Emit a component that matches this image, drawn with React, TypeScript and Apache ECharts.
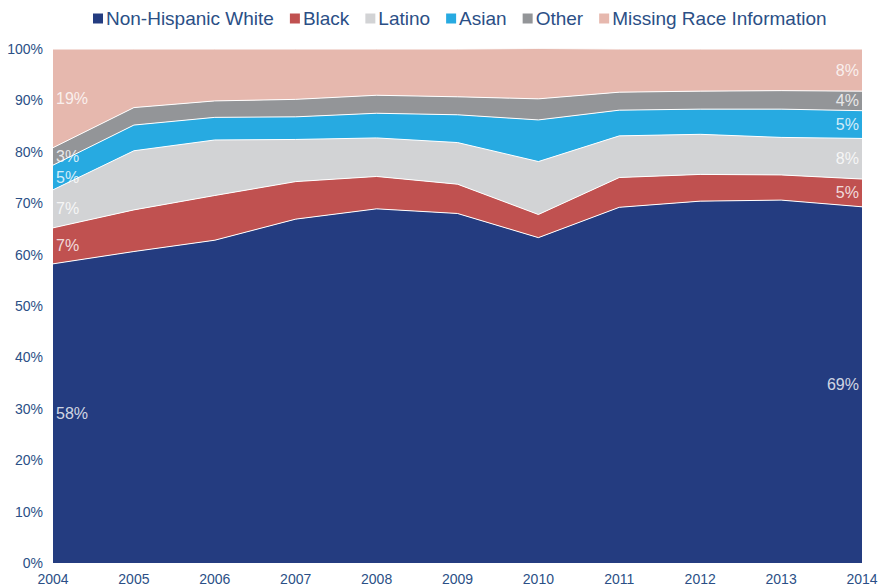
import React, { useEffect, useRef } from "react";
import * as echarts from "echarts";

const years = ["2004", "2005", "2006", "2007", "2008", "2009", "2010", "2011", "2012", "2013", "2014"];
const white = [58.2, 60.6, 62.8, 66.9, 68.9, 68.0, 63.3, 69.2, 70.4, 70.6, 69.3];
const black = [7.0, 8.1, 8.7, 7.3, 6.3, 5.7, 4.5, 5.8, 5.2, 4.9, 5.4];
const latino = [7.4, 11.5, 10.8, 8.2, 7.5, 8.1, 10.3, 8.1, 7.8, 7.3, 7.9];
const asian = [4.8, 5.0, 4.4, 4.4, 4.8, 5.4, 8.1, 5.0, 4.9, 5.5, 5.4];
const other = [3.4, 3.4, 3.2, 3.4, 3.5, 3.5, 4.1, 3.5, 3.5, 3.6, 3.8];
const missing = [19.2, 11.4, 10.1, 9.8, 9.0, 9.3, 9.8, 8.4, 8.2, 8.1, 8.2];

const seriesNames = ["Non-Hispanic White", "Black", "Latino", "Asian", "Other", "Missing Race Information"];
const seriesData = [white, black, latino, asian, other, missing];
const colors = ["#243c80", "#c05150", "#d2d3d5", "#27aae1", "#939598", "#e6b8ae"];

const textBlue = "#2b4f86";
const font = "'Liberation Sans', Arial, sans-serif";

export default function App() {
  const ref = useRef<HTMLDivElement>(null);
  useEffect(() => {
    if (!ref.current) return;
    const chart = echarts.init(ref.current, undefined, { renderer: "svg" });

    const labelPoints = (idx: number, pos: "right" | "left") => {
      const pts: any[] = [];
      let cum = 0;
      seriesData.forEach((arr) => {
        const v = arr[idx];
        pts.push({
          value: [idx, cum + v / 2],
          label: {
            show: true,
            position: pos,
            distance: 3,
            formatter: Math.round(v) + "%",
          },
        });
        cum += v;
      });
      return pts;
    };

    const areaSeries = seriesNames.map((name, i) => ({
      name,
      type: "line",
      stack: "total",
      data: seriesData[i],
      symbol: "none",
      lineStyle: { color: "#ffffff", width: 1 },
      itemStyle: { color: colors[i] },
      areaStyle: { color: colors[i], opacity: 1 },
      z: 2,
    }));

    const labelSeriesBase = {
      type: "scatter",
      symbolSize: 0.1,
      itemStyle: { color: "rgba(0,0,0,0)" },
      label: { color: "#ffffff", fontSize: 16, fontFamily: font },
      z: 5,
      silent: true,
      legendHoverLink: false,
    };

    chart.setOption({
      animation: false,
      textStyle: { fontFamily: font },
      legend: {
        top: 4,
        left: 88,
        itemWidth: 10,
        itemHeight: 10,
        itemGap: 16,
        icon: "rect",
        data: seriesNames,
        textStyle: { color: textBlue, fontSize: 19, fontFamily: font, padding: [0, 0, 0, -2] },
      },
      grid: { left: 53, right: 30, top: 49, bottom: 25, containLabel: false },
      xAxis: {
        type: "category",
        data: years,
        boundaryGap: false,
        axisLine: { show: false },
        axisTick: { show: false },
        axisLabel: { color: textBlue, fontSize: 14, fontFamily: font, margin: 9 },
      },
      yAxis: {
        type: "value",
        min: 0,
        max: 100,
        interval: 10,
        splitLine: { show: false },
        axisLine: { show: false },
        axisTick: { show: false },
        axisLabel: { color: textBlue, fontSize: 14, fontFamily: font, formatter: "{value}%", margin: 10 },
      },
      series: [
        ...areaSeries,
        { ...labelSeriesBase, name: "labels2004", data: labelPoints(0, "right") },
        { ...labelSeriesBase, name: "labels2014", data: labelPoints(years.length - 1, "left") },
      ],
    });

    return () => chart.dispose();
  }, []);
  return <div ref={ref} style={{ position: "absolute", left: 0, top: 0, width: 892, height: 588 }} />;
}
